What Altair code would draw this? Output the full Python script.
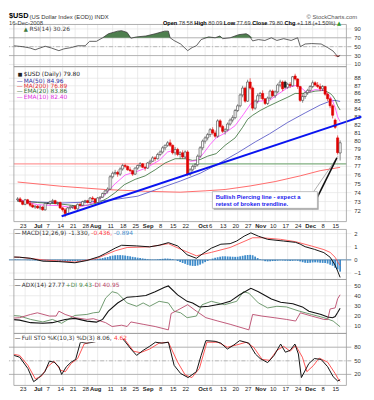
import altair as alt
import pandas as pd

# ---------------- values ----------------
# trading-day index: 0 = Mon 23-Jun-2008 (weekdays), 126 = Tue 16-Dec-2008
DAY = list(range(-3, 127))
OPEN = [73.2, 73.3, 73.0, 72.7, 73.2, 72.8, 72.6, 72.4, 72.5, 72.3,
        72.4, 72.1, 72.8, 72.8, 73.0, 73.1, 72.8, 72.9, 72.3, 72.1,
        71.7, 72.3, 72.4, 72.5, 72.2, 72.7, 72.6, 73.0, 73.1, 72.9,
        73.4, 73.3, 72.9, 73.4, 73.5, 73.9, 74.2, 74.4, 75.8, 76.2,
        76.3, 76.1, 76.7, 77.1, 77.0, 76.6, 76.5, 76.1, 76.8, 77.1,
        77.3, 76.9, 76.8, 77.4, 77.6, 78.0, 77.9, 78.4, 78.7, 79.2,
        79.5, 79.8, 79.5, 78.6, 79.0, 78.4, 78.6, 78.1, 78.7, 76.1,
        76.6, 77.0, 77.2, 78.2, 79.2, 80.0, 80.4, 80.8, 81.4, 81.0,
        80.6, 82.5, 81.8, 81.2, 81.4, 82.1, 82.6, 82.9, 83.8, 84.4,
        85.8, 86.7, 85.0, 87.5, 86.7, 84.1, 85.0, 85.7, 86.0, 85.3,
        84.7, 85.4, 86.3, 85.7, 86.2, 87.1, 87.5, 87.5, 86.8, 87.2,
        87.0, 88.3, 87.9, 86.9, 85.1, 85.6, 86.1, 86.4, 86.9, 87.4,
        87.1, 86.9, 86.6, 86.9, 85.9, 85.3, 84.4, 82.6, 80.4, 78.58]
HIGH = [73.5, 73.5, 73.2, 73.3, 73.3, 73.1, 72.8, 72.6, 72.6, 72.6,
        72.5, 72.9, 72.9, 73.1, 73.3, 73.2, 73.0, 73.0, 72.4, 72.3,
        72.4, 72.6, 72.6, 72.6, 72.8, 72.9, 73.1, 73.2, 73.2, 73.5,
        73.6, 73.4, 73.5, 73.6, 74.0, 74.3, 74.6, 76.0, 76.4, 76.6,
        76.5, 76.9, 77.3, 77.3, 77.1, 76.9, 76.6, 76.9, 77.2, 77.5,
        77.4, 77.1, 77.5, 77.8, 78.2, 78.2, 78.6, 78.9, 79.4, 79.6,
        80.0, 80.2, 79.6, 79.3, 79.2, 78.8, 78.9, 78.9, 78.9, 76.8,
        77.2, 77.4, 78.4, 79.4, 80.2, 80.6, 81.0, 81.6, 81.7, 81.3,
        82.7, 82.7, 82.0, 81.6, 82.3, 82.8, 83.2, 84.0, 84.6, 86.0,
        87.0, 86.9, 87.8, 88.0, 86.9, 85.2, 86.0, 86.2, 86.4, 85.4,
        85.6, 86.5, 86.5, 86.4, 87.3, 87.8, 87.7, 87.7, 87.4, 87.5,
        88.3, 88.6, 88.0, 87.0, 85.9, 86.3, 86.6, 87.1, 87.7, 87.6,
        87.5, 87.3, 87.1, 87.0, 86.1, 85.5, 84.6, 82.8, 80.7, 80.09]
LOW = [73.0, 72.9, 72.6, 72.6, 72.7, 72.4, 72.3, 72.2, 72.2, 72.1,
       72.0, 72.0, 72.7, 72.6, 72.8, 72.7, 72.6, 72.2, 71.9, 71.3,
       71.6, 72.1, 72.2, 72.1, 72.1, 72.5, 72.5, 72.8, 72.8, 72.8,
       73.1, 72.8, 72.8, 73.2, 73.4, 73.7, 73.9, 74.3, 75.6, 76.0,
       75.8, 75.9, 76.5, 76.8, 76.5, 76.3, 75.9, 76.0, 76.6, 76.9,
       76.8, 76.5, 76.7, 77.2, 77.5, 77.6, 77.8, 78.2, 78.5, 78.9,
       79.3, 79.3, 78.4, 78.3, 78.2, 77.9, 77.9, 77.9, 75.9, 75.9,
       76.4, 76.7, 77.0, 78.0, 78.9, 79.7, 80.1, 80.5, 80.8, 80.4,
       80.4, 81.6, 81.0, 80.8, 81.2, 81.9, 82.3, 82.7, 83.6, 84.2,
       85.5, 84.8, 84.9, 86.5, 83.8, 83.9, 84.7, 85.3, 85.1, 84.5,
       84.5, 85.2, 85.5, 85.4, 86.0, 86.8, 86.3, 86.6, 86.6, 86.7,
       86.9, 87.7, 86.6, 84.9, 84.8, 85.3, 85.8, 86.2, 86.7, 86.9,
       86.7, 86.3, 86.3, 85.7, 85.0, 84.1, 82.8, 81.5, 78.4, 77.69]
CLOSE = [73.3, 73.0, 72.7, 73.2, 72.8, 72.6, 72.4, 72.5, 72.3, 72.4,
         72.1, 72.8, 72.8, 73.0, 73.1, 72.8, 72.9, 72.3, 72.1, 71.7,
         72.3, 72.4, 72.5, 72.2, 72.7, 72.6, 73.0, 73.1, 72.9, 73.4,
         73.3, 72.9, 73.4, 73.5, 73.9, 74.2, 74.4, 75.8, 76.2, 76.3,
         76.1, 76.7, 77.1, 77.0, 76.6, 76.5, 76.1, 76.8, 77.1, 77.3,
         76.9, 76.8, 77.4, 77.6, 78.0, 77.9, 78.4, 78.7, 79.2, 79.5,
         79.8, 79.5, 78.6, 79.0, 78.4, 78.6, 78.1, 78.7, 76.1, 76.6,
         77.0, 77.2, 78.2, 79.2, 80.0, 80.4, 80.8, 81.4, 81.0, 80.6,
         82.5, 81.8, 81.2, 81.4, 82.1, 82.6, 82.9, 83.8, 84.4, 85.8,
         86.7, 85.0, 87.5, 86.7, 84.1, 85.0, 85.7, 86.0, 85.3, 84.7,
         85.4, 86.3, 85.7, 86.2, 87.1, 87.5, 86.6, 86.8, 87.2, 87.0,
         88.2, 87.9, 86.9, 85.1, 85.6, 86.1, 86.4, 86.9, 87.4, 87.1,
         86.9, 86.6, 86.9, 85.9, 85.3, 84.4, 83.2, 81.7, 78.62, 79.80]

MA50_DAY = [-3, 5, 15, 25, 35, 45, 55, 62, 70, 76, 85, 92, 97.8, 105, 112, 118, 122, 124, 126]
MA50_VAL = [73.1, 72.95, 72.85, 72.95, 73.2, 73.6, 74.6, 75.3, 76.2, 77.1, 78.6, 79.9, 80.9,
            82.3, 83.5, 84.5, 85.0, 85.1, 84.96]
MA200_DAY = [-3, 15, 32, 48, 62, 72, 80, 90, 100, 110, 118, 126]
MA200_VAL = [75.2, 74.7, 74.35, 74.15, 74.05, 74.2, 74.35, 74.75, 75.25, 75.9, 76.5, 76.89]
EMA20_DAY = [-3, 5, 13.5, 20, 25, 29.6, 33, 36, 39.7, 44, 48, 52, 56, 60, 64, 67, 70, 73, 76.4,
             80, 84, 87, 89, 91, 94, 97, 101.6, 105, 108, 112, 116, 119.7, 122, 123, 124, 125, 126]
EMA20_VAL = [73.05, 72.9, 72.75, 72.55, 72.6, 72.9, 73.4, 74.0, 74.9, 75.5, 75.9, 76.6, 77.4,
             77.9, 77.9, 77.7, 77.8, 78.2, 78.5, 79.5, 80.4, 81.7, 82.7, 83.2, 83.8, 84.3, 85.0,
             85.5, 86.0, 86.0, 86.3, 86.4, 86.0, 85.7, 85.2, 84.4, 83.86]
EMA10_DAY = [-3, 5, 13.5, 19.9, 24.7, 28.5, 32, 36, 40, 44.6, 48.3, 53.6, 57, 59.6, 62.9, 66, 69,
             71.5, 74, 76.4, 80, 84, 87.3, 90.3, 94, 97.8, 101.6, 105.3, 109, 112.8, 116, 119.5,
             122, 123, 124, 125, 126]
EMA10_VAL = [73.25, 72.65, 72.55, 72.3, 72.6, 73.0, 73.8, 75.0, 76.0, 76.4, 76.8, 77.7, 78.7,
             78.9, 78.4, 77.6, 77.7, 78.6, 79.6, 80.4, 81.0, 81.9, 83.3, 84.7, 85.0, 85.1, 86.0,
             86.8, 87.1, 86.1, 86.5, 86.4, 85.6, 85.0, 84.2, 83.0, 82.4]

RSI_DAY = [-4.5, -1, 2, 4, 8, 10.5, 13.5, 15.5, 18.5, 21, 24, 25.8, 28.5, 31, 33.3, 37, 38.6,
           40.8, 42.3, 44.6, 48.3, 52, 55.8, 57.3, 58, 59.5, 62.2, 65, 66.8, 68.5, 70.4, 73.4,
           76, 77.9, 79, 82, 85.4, 88.4, 89.5, 91, 93.3, 95.9, 98.5, 100.7, 103.4, 106.4, 109,
           110.1, 112, 114.6, 118.4, 121, 123.2, 125.1, 126]
RSI_VAL = [52, 50, 47, 43, 51, 47, 41, 45, 48, 52, 52, 62, 62, 70, 79, 85, 86, 82, 69, 72, 74,
           79, 85, 85, 70, 64, 56, 41, 48, 52, 66, 72, 70, 74, 68, 70, 77, 79, 76, 63, 66, 64,
           70, 64, 68, 64, 70, 50, 56, 57, 56, 48, 40, 27, 30.26]

MACD_DAY = [-4.5, -2.2, 2.2, 7.1, 13.5, 19.9, 24.7, 29.6, 32.2, 36, 38.6, 44.6, 49.8, 53.6,
            57.3, 61, 64.8, 68.5, 70.8, 74.5, 78.3, 82, 84.6, 87.6, 90.3, 93.3, 97, 103.4,
            108.2, 110, 112, 115.7, 119.5, 122, 124, 125, 126]
MACD_VAL = [0.22, 0.2, 0.12, -0.1, -0.13, -0.22, -0.05, 0.25, 0.5, 0.89, 1.11, 1.06, 0.99,
            1.11, 1.31, 1.06, 0.39, 0.12, 0.44, 0.89, 1.19, 1.23, 1.43, 1.80, 2.05, 1.8, 1.56,
            1.43, 1.33, 1.2, 1.0, 0.8, 0.55, 0.2, -0.4, -0.85, -1.33]
SIG_DAY = [-4.5, -2.2, 7.1, 19.9, 28.5, 36, 40.8, 49.8, 57.3, 62.2, 68.5, 74.5, 82, 91, 94.7,
           102.2, 108.2, 114.6, 119.5, 122, 124, 125, 126]
SIG_VAL = [0.2, 0.2, 0.0, -0.17, 0.1, 0.69, 0.94, 0.99, 1.23, 0.81, 0.31, 0.57, 0.94, 1.68,
           1.68, 1.56, 1.38, 1.05, 0.78, 0.57, 0.2, -0.15, -0.436]
HIST_DAY = list(range(-4, 127))
HIST_VAL = [0.03, 0.02, 0.01, 0.0, -0.01, -0.02, -0.03, -0.03, -0.04, -0.04,
            -0.05, -0.06, -0.05, -0.04, -0.03, -0.03, -0.04, -0.06, -0.08, -0.10,
            -0.12, -0.12, -0.11, -0.10, -0.09, -0.08, -0.06, -0.04, -0.02, 0.0,
            0.03, 0.05, 0.06, 0.08, 0.10, 0.14, 0.18, 0.22, 0.28, 0.32,
            0.35, 0.36, 0.36, 0.35, 0.33, 0.30, 0.27, 0.23, 0.20, 0.17,
            0.14, 0.11, 0.08, 0.05, 0.03, 0.02, 0.02, 0.04, 0.06, 0.08,
            0.10, 0.10, 0.08, 0.05, 0.0, -0.08, -0.16, -0.24, -0.30, -0.38,
            -0.43, -0.46, -0.46, -0.43, -0.36, -0.27, -0.17, -0.08, 0.02, 0.10,
            0.16, 0.20, 0.24, 0.27, 0.27, 0.26, 0.25, 0.24, 0.23, 0.24,
            0.27, 0.31, 0.35, 0.37, 0.38, 0.35, 0.25, 0.14, 0.05, -0.03,
            -0.10, -0.12, -0.11, -0.09, -0.08, -0.06, -0.04, -0.05, -0.06, -0.07,
            -0.08, -0.07, -0.05, -0.07, -0.12, -0.18, -0.22, -0.24, -0.22, -0.20,
            -0.19, -0.20, -0.22, -0.23, -0.24, -0.28, -0.37, -0.45, -0.60, -0.72, -0.894]

ADX_DAY = [-4.5, -2.2, 2.2, 7.1, 10.9, 16, 19.9, 24.7, 28.5, 31, 33.3, 37, 40.8, 44.6, 48.3,
           52, 55.8, 57.3, 61, 64.8, 67, 69.7, 73.4, 78.3, 82, 85.8, 90.3, 93.3, 98.5, 102.2,
           107.1, 110.9, 113.5, 118.4, 121, 123, 124, 125, 126]
ADX_VAL = [16.5, 16, 13.5, 13, 13.5, 16.7, 17.7, 15, 14, 16.7, 24.8, 32.8, 38.6, 39.3, 40.3,
           44, 48.3, 49.6, 40.9, 34.5, 32.9, 29, 29.6, 31.9, 34.5, 40.9, 47.3, 44, 36.7, 33.5,
           32.2, 29, 24.8, 21.6, 19, 18.3, 19.5, 23.5, 27.77]
PDI_DAY = [-4.5, -2.2, 2.2, 7.1, 10.9, 14.6, 19.9, 24.7, 27.3, 29.6, 32.2, 34.8, 37, 40.8,
           44.6, 47.2, 49.8, 53.6, 57.3, 59.6, 62.2, 64.8, 68.5, 70.8, 74.5, 79.8, 84.6, 87.3,
           89.5, 93.3, 97, 100.7, 104.5, 109.7, 114.6, 119.5, 123.2, 126]
PDI_VAL = [20.5, 20, 16.7, 14.2, 16.7, 12.9, 20.6, 21.6, 23.2, 23.8, 37.7, 44, 42.5, 32.9,
           29.6, 32.9, 29.6, 34.5, 32.9, 24.8, 23.2, 18.4, 20, 31.2, 34.5, 31.2, 34.5, 44,
           42.5, 32.9, 28, 29.6, 29, 24.8, 21.6, 18.4, 15.1, 9.43]
MDI_DAY = [-4.5, -2.2, 2.2, 4.9, 9.7, 12.4, 13.5, 16, 19.9, 24.7, 27.3, 32.2, 34.8, 38.6, 40.8,
           42.3, 47.2, 52, 57.3, 58.4, 61, 65, 68.5, 72.3, 77.1, 82, 89.5, 91, 94.7, 99.6,
           104.5, 108.2, 110.1, 114.6, 119.5, 121, 122, 124, 125, 126]
MDI_VAL = [18, 18.4, 21.6, 23.2, 20, 20, 24.8, 21.6, 18.4, 16.7, 17.4, 13.5, 9.7, 11, 9.7,
           14.2, 11.9, 9.7, 6.4, 22.5, 25.8, 31.2, 24.8, 18.4, 15.1, 11.9, 6.4, 21.6, 20, 18.4,
           16.7, 15.1, 23.2, 20, 16.7, 16.5, 27, 28, 37, 40.95]

K_DAY = [-4.5, -2.2, 1.1, 3.4, 5.2, 7.9, 9.7, 11.6, 13.5, 14.6, 16.5, 18.4, 20.2, 22.1, 24.7,
         27.3, 29.6, 32.2, 34, 38.6, 39.7, 42.3, 44.6, 47.2, 49.8, 52.1, 54.7, 57.3, 59.6, 62.2,
         65.2, 68.5, 70.4, 72.3, 76, 78.3, 80.9, 83.5, 85.8, 89.5, 92.1, 94, 97, 99.6, 102.2,
         104.1, 106, 107.9, 109.3, 110.5, 113.5, 115.7, 118.4, 121, 123.2, 125, 126]
K_VAL = [62, 58, 33, 4, 11, 26, 49, 47, 37, 20, 37, 47, 53, 91, 89, 91, 94.5, 98, 100, 100,
         94.5, 76, 62, 73, 82, 91, 89, 91, 40, 22, 13, 26, 62, 94.5, 93, 89, 76, 85, 94.5, 89,
         65, 55, 46, 62, 87, 69, 73, 87, 65, 13, 44, 55, 53, 37, 15, 5.5, 8.06]
D_DAY = [-4.5, -2.2, 1.1, 4.1, 6.7, 9, 11.6, 14.2, 16.1, 18.4, 21, 23.6, 25.8, 31.1, 39.7, 43.4,
         46.1, 49.8, 53.6, 57.3, 61, 64, 66.7, 69.7, 72.7, 77.1, 80.9, 84.6, 88.4, 91.4, 94.8,
         97.8, 100.7, 103.4, 106, 108.2, 110.9, 112.7, 115.4, 117.6, 121, 124, 125, 126]
D_VAL = [64, 62, 40, 10, 17, 37, 49, 29, 26, 44, 55, 87, 91, 94.5, 98, 71, 68, 76, 89, 91, 47,
         19, 13, 33, 91, 91, 80, 85, 91, 80, 53, 51, 73, 82, 71, 84, 58, 26, 40, 56, 47, 22, 12,
         4.62]

# annotations drawn on the price panel (day, price)
TREND_DAY = [14.6, 134.5]
TREND_PRICE = [71.4, 83.03]
HLINE_PRICE = 77.3
HLINE_SPLIT_DAY = 65
NOTE_BOX_DAY = [74.9, 116.9]
NOTE_BOX_PRICE = [72.26, 74.11]
NOTE_LINES = ["Bullish Piercing line  - expect a", "retest of broken trendline."]
NOTE_LINE_PRICE = [73.56, 72.74]
NOTE_TEXT_DAY = 76.2
POINTER_GRAY = [(115.4, 74.11), (125.1, 78.18)]
POINTER_BLACK = [(116.9, 73.5), (124.7, 77.99)]

TICK_DAY = [0, 6, 10, 15, 20, 25, 29, 35, 40, 45, 50, 55, 60, 65, 72, 75, 80, 85, 90, 95, 100,
            105, 110, 115, 120, 125]
TICK_LABEL = ["23", "Jul", "7", "14", "21", "28", "Aug", "11", "18", "25", "Sep", "8", "15",
              "22", "Oct", "6", "13", "20", "27", "Nov", "10", "17", "24", "Dec", "8", "15"]
MONTH_DAY = [6, 29, 50, 72, 95, 115]
RSI_TICKS = [10, 30, 50, 70, 90]
PRICE_TICKS = list(range(72, 89))
MACD_TICKS = [-1, 0, 1, 2]
ADX_TICKS = [10, 20, 30, 40, 50]
STO_TICKS = [20, 50, 80]

HEADER_FIELDS = ["Open", "High", "Low", "Close", "Chg"]
HEADER_VALUES = ["78.58", "80.09", "77.69", "79.80", "+1.18 (+1.50%)"]

# ---------------- layout & style ----------------
W, H = 349, 381
X_DOM = [-4.5, 128.5]
AXF = "Liberation Sans"
LGF = "DejaVu Sans"
GRID = "#e3e3e3"
FRAME = "#9a9a9a"

XS = alt.Scale(domain=X_DOM, nice=False, zero=False)


def lin(dom, rng):
    return alt.Scale(domain=dom, range=rng, nice=False, zero=False)


RSI_DOM, RSI_S = [5, 100], lin([5, 100], [56, 13])
PRICE_DOM = [70.82, 89.56]
PRICE_S = alt.Scale(type="log", domain=PRICE_DOM, range=[214, 56], nice=False)
MACD_DOM, MACD_S = [-1.49, 2.31], lin([-1.49, 2.31], [273, 222])
ADX_DOM, ADX_S = [2.9, 56.0], lin([2.9, 56.0], [328, 273])
STO_DOM, STO_S = [-4.3, 110.4], lin([-4.3, 110.4], [381, 328])

ONE = pd.DataFrame({"k": [0]})
TICKS_DF = pd.DataFrame({"d": TICK_DAY, "t": TICK_LABEL})
MONTH_TEST = f"indexof({MONTH_DAY}, datum.d) >= 0"


def X(field="d"):
    return alt.X(f"{field}:Q", scale=XS, axis=None, title=None)


def Y(field, s):
    return alt.Y(f"{field}:Q", scale=s, axis=None, title=None)


def pairs(days, vals):
    return pd.DataFrame({"d": days, "v": vals})


def frame_parts(s, dom, ticks):
    tdf = pd.DataFrame({"v": ticks})
    hgrid = alt.Chart(tdf).mark_rule(color=GRID, strokeWidth=0.7).encode(y=Y("v", s))
    vgrid = alt.Chart(pd.DataFrame({"g": TICK_DAY})).mark_rule(color=GRID, strokeWidth=0.7).encode(
        x=X("g"), y=alt.YDatum(dom[1], scale=s, axis=None), y2=alt.Y2Datum(dom[0]))
    ylab = alt.Chart(tdf).mark_text(align="left", baseline="middle", font=AXF, fontSize=6,
                                    color="#333", dx=3).encode(
        x=alt.value(W), y=Y("v", s), text=alt.Text("v:Q", format="d"))
    return [hgrid, vgrid, ylab]


def xlabels(ypix):
    out = []
    for test, weight in ((MONTH_TEST, "bold"), (f"!({MONTH_TEST})", "normal")):
        out.append(alt.Chart(TICKS_DF).transform_filter(test).mark_text(
            align="center", baseline="middle", font=AXF, fontSize=6, color="#222", dx=-2,
            fontWeight=weight).encode(x=X("d"), y=alt.value(ypix), text="t:N"))
    return out


def border(s, dom):
    return alt.Chart(ONE).mark_rect(fillOpacity=0, stroke=FRAME, strokeWidth=0.8).encode(
        x=alt.XDatum(X_DOM[0], scale=XS, axis=None), x2=alt.X2Datum(X_DOM[1]),
        y=alt.YDatum(dom[1], scale=s, axis=None), y2=alt.Y2Datum(dom[0]))


def level(vals, s, color="#a8a8a8", dash=None, width=0.8):
    kw = dict(color=color, strokeWidth=width)
    if dash:
        kw["strokeDash"] = dash
    return alt.Chart(pd.DataFrame({"v": vals})).mark_rule(**kw).encode(y=Y("v", s))


def line(days, vals, s, color, width=0.8):
    return alt.Chart(pairs(days, vals)).mark_line(color=color, strokeWidth=width).encode(
        x=X("d"), y=Y("v", s))


def txt(s, x, y, color="#333", size=6, weight="normal", align="left", font=LGF):
    return alt.Chart(ONE).mark_text(text=s, x=x, y=y, color=color, fontSize=size,
                                    fontWeight=weight, align=align, baseline="middle", font=font)


# ---------------- RSI panel ----------------
rsi_df = pairs(RSI_DAY, RSI_VAL)
rsi_up = alt.Chart(rsi_df).transform_calculate(t="max(datum.v, 70)").mark_area(
    color="#4f7f4f").encode(x=X("d"), y=Y("t", RSI_S), y2=alt.Y2Datum(70))
rsi_dn = alt.Chart(rsi_df).transform_calculate(t="min(datum.v, 30)").mark_area(
    color="#d04848").encode(x=X("d"), y=Y("t", RSI_S), y2=alt.Y2Datum(30))
rsi_panel = alt.layer(
    *frame_parts(RSI_S, RSI_DOM, RSI_TICKS),
    level([30, 70], RSI_S), level([50], RSI_S, dash=[4, 2, 1, 2]),
    rsi_up, rsi_dn,
    line(RSI_DAY, RSI_VAL, RSI_S, "#3a3a3a", 0.8),
    border(RSI_S, RSI_DOM))

# ---------------- price panel ----------------
cdf = pd.DataFrame({"d": DAY, "o": OPEN, "h": HIGH, "l": LOW, "c": CLOSE})
cdf["p"] = cdf["c"].shift(1).fillna(cdf["o"])
KIND = ("datum.c > datum.o ? (datum.c < datum.p ? 'rh' : 'bh') : "
        "(datum.c < datum.p ? 'rf' : 'bf')")
KIND_DOM = ["rh", "bh", "rf", "bf"]
STROKE_S = alt.Scale(domain=KIND_DOM, range=["#e00000", "#3a3a3a", "#e00000", "#222222"])
FILL_S = alt.Scale(domain=KIND_DOM, range=["#ffffff", "#ffffff", "#e00000", "#222222"])
wick = alt.Chart(cdf).transform_calculate(kind=KIND).mark_rule(strokeWidth=0.6).encode(
    x=X("d"), y=Y("l", PRICE_S), y2=alt.Y2("h"),
    stroke=alt.Stroke("kind:N", scale=STROKE_S, legend=None))
body = alt.Chart(cdf).transform_calculate(kind=KIND).mark_bar(size=2.2, strokeWidth=0.6).encode(
    x=X("d"), y=Y("o", PRICE_S), y2=alt.Y2("c"),
    fill=alt.Fill("kind:N", scale=FILL_S, legend=None),
    stroke=alt.Stroke("kind:N", scale=STROKE_S, legend=None))

hline_l = alt.Chart(ONE).mark_rule(color="#ff9a9a", strokeWidth=1.4).encode(
    x=alt.XDatum(X_DOM[0], scale=XS, axis=None), x2=alt.X2Datum(HLINE_SPLIT_DAY),
    y=alt.YDatum(HLINE_PRICE, scale=PRICE_S, axis=None))
hline_r = alt.Chart(ONE).mark_rule(color="#7fae7f", strokeWidth=1.4).encode(
    x=alt.XDatum(HLINE_SPLIT_DAY, scale=XS, axis=None), x2=alt.X2Datum(X_DOM[1]),
    y=alt.YDatum(HLINE_PRICE, scale=PRICE_S, axis=None))
trend = alt.Chart(pairs(TREND_DAY, TREND_PRICE)).mark_line(
    color="#0a14f0", strokeWidth=2, clip=False).encode(x=X("d"), y=Y("v", PRICE_S))


def seg(p0, p1, color, width):
    return alt.Chart(ONE).mark_rule(color=color, strokeWidth=width).encode(
        x=alt.XDatum(p0[0], scale=XS, axis=None), x2=alt.X2Datum(p1[0]),
        y=alt.YDatum(p0[1], scale=PRICE_S, axis=None), y2=alt.Y2Datum(p1[1]))


note_shadow = alt.Chart(ONE).mark_rect(color="#a0a0a0").encode(
    x=alt.XDatum(NOTE_BOX_DAY[0] + 0.5, scale=XS, axis=None), x2=alt.X2Datum(NOTE_BOX_DAY[1] + 0.5),
    y=alt.YDatum(NOTE_BOX_PRICE[0] * 0.998, scale=PRICE_S, axis=None),
    y2=alt.Y2Datum(NOTE_BOX_PRICE[1] * 0.998))
note_box = alt.Chart(ONE).mark_rect(fill="white", stroke="#b0b0b0", strokeWidth=0.8).encode(
    x=alt.XDatum(NOTE_BOX_DAY[0], scale=XS, axis=None), x2=alt.X2Datum(NOTE_BOX_DAY[1]),
    y=alt.YDatum(NOTE_BOX_PRICE[0], scale=PRICE_S, axis=None), y2=alt.Y2Datum(NOTE_BOX_PRICE[1]))
note_text = alt.Chart(pd.DataFrame({"t": NOTE_LINES, "v": NOTE_LINE_PRICE})).mark_text(
    align="left", baseline="middle", font=AXF, fontSize=6, fontWeight="bold",
    color="#1a1aee").encode(x=alt.XDatum(NOTE_TEXT_DAY, scale=XS, axis=None),
                            y=Y("v", PRICE_S), text="t:N")

price_panel = alt.layer(
    *frame_parts(PRICE_S, PRICE_DOM, PRICE_TICKS),
    hline_l, hline_r,
    line(MA200_DAY, MA200_VAL, PRICE_S, "#ff6a6a", 1.0),
    line(MA50_DAY, MA50_VAL, PRICE_S, "#5c5cc8", 0.9),
    line(EMA20_DAY, EMA20_VAL, PRICE_S, "#2f6a2f", 0.8),
    line(EMA10_DAY, EMA10_VAL, PRICE_S, "#ff40ff", 0.8),
    wick, body, trend,
    seg(*POINTER_GRAY, "#9a9a9a", 0.8), seg(*POINTER_BLACK, "#111111", 1.6),
    note_shadow, note_box, note_text,
    border(PRICE_S, PRICE_DOM),
    *xlabels(218.5))

# ---------------- MACD panel ----------------
hist = alt.Chart(pairs(HIST_DAY, HIST_VAL)).mark_bar(size=1.8, color="#3f8ccb").encode(
    x=X("d"), y=Y("v", MACD_S), y2=alt.Y2Datum(0))
macd_panel = alt.layer(
    *frame_parts(MACD_S, MACD_DOM, MACD_TICKS),
    hist, level([0], MACD_S, color="#2f6a9e", width=0.8),
    line(SIG_DAY, SIG_VAL, MACD_S, "#ff5050", 0.9),
    line(MACD_DAY, MACD_VAL, MACD_S, "#111111", 1.0),
    border(MACD_S, MACD_DOM))

# ---------------- ADX panel ----------------
adx_panel = alt.layer(
    *frame_parts(ADX_S, ADX_DOM, ADX_TICKS),
    line(PDI_DAY, PDI_VAL, ADX_S, "#5e8e5e", 0.9),
    line(MDI_DAY, MDI_VAL, ADX_S, "#b8476a", 0.9),
    line(ADX_DAY, ADX_VAL, ADX_S, "#111111", 1.1),
    border(ADX_S, ADX_DOM))

# ---------------- Stochastics panel ----------------
sto_panel = alt.layer(
    *frame_parts(STO_S, STO_DOM, STO_TICKS),
    level([20, 80], STO_S), level([50], STO_S, dash=[4, 2, 1, 2]),
    line(D_DAY, D_VAL, STO_S, "#ff4040", 0.9),
    line(K_DAY, K_VAL, STO_S, "#111111", 1.0),
    border(STO_S, STO_DOM),
    *xlabels(385))

# ---------------- header & legends ----------------
AR = {c: .556 for c in "0123456789"}
AR.update({".": .278, " ": .278, "+": .584, "(": .333, ")": .333, "%": .889, "-": .333})
AB = {"O": .778, "p": .611, "e": .556, "n": .611, "H": .722, "i": .278, "g": .611, "h": .611,
      "L": .611, "o": .611, "w": .778, "C": .722, "l": .278, "s": .556}
HS = 5.7
texts = [
    txt("$USD", 0, 4.5, "#000", 7.5, "bold", font=AXF),
    txt("(US Dollar Index (EOD)) INDX", 21, 5, "#333", 6, font=AXF),
    txt("\u00a9 StockCharts.com", 355, 5, "#555", 6, align="right", font=AXF),
    txt("16-Dec-2008", 0, 11.5, "#444", 6, font=AXF),
]
hx = 157
for f, v in zip(HEADER_FIELDS, HEADER_VALUES):
    texts.append(txt(f, hx, 11.5, "#000", HS, "bold", font=AXF))
    hx += sum(AB.get(ch, .611) for ch in f) * HS + .278 * HS
    texts.append(txt(v, hx, 11.5, "#333", HS, font=AXF))
    hx += sum(AR.get(ch, .556) for ch in v) * HS + .278 * HS
texts.append(txt("\u25b2", hx, 11.5, "#2e9a2e", 5.5))

# white backing behind the stochastics legend (the %K line runs under it)
sto_legend_bg = alt.Chart(ONE).mark_rect(color="white").encode(
    x=alt.value(12), x2=alt.value(116), y=alt.value(329.5), y2=alt.value(337))

texts += [
    txt("\u25b2", 15, 17.5, "#3d7a3d", 5.5), txt("RSI(14) 30.26", 21, 17.5, "#444"),
    txt("\u25a0", 9, 63.7, "#222", 5), txt("$USD (Daily) 79.80", 15, 63.7, "#222"),
    txt("\u2014", 8, 70.3, "#2b2b9b"), txt("MA(50) 84.96", 15, 70.3, "#2b2b9b"),
    txt("\u2014", 8, 76, "#e03030"), txt("MA(200) 76.89", 15, 76, "#e03030"),
    txt("\u2014", 8, 81.3, "#2f6a2f"), txt("EMA(20) 83.86", 15, 81.3, "#2f6a2f"),
    txt("\u2014", 8, 87, "#e030e0"), txt("EMA(10) 82.40", 15, 87, "#e030e0"),
    txt("\u2014", 6, 225.5, "#111"), txt("MACD(12,26,9)", 13, 225.5, "#333"),
    txt("-1.330,", 61, 225.5, "#333"), txt("-0.436,", 84, 225.5, "#ff4040"),
    txt("-0.894", 107, 225.5, "#3f8ccb"),
    txt("\u2014", 6, 279, "#111"), txt("ADX(14) 27.77", 13, 279, "#333"),
    txt("+DI 9.43", 58, 279, "#4e8a4e"), txt("-DI 40.95", 85, 279, "#b8476a"),
    sto_legend_bg,
    txt("\u2014", 6, 333, "#111"), txt("Full STO %K(10,3) %D(3) 8.06,", 13, 333, "#333"),
    txt("4.62", 107, 333, "#ff4040"),
]

chart = alt.layer(rsi_panel, price_panel, macd_panel, adx_panel, sto_panel, *texts).resolve_scale(
    y="independent").properties(
    width=W, height=H, padding=0, background="white").configure_view(stroke=None)

chart.save("out.html", embed_options={"renderer": "svg", "actions": False})
